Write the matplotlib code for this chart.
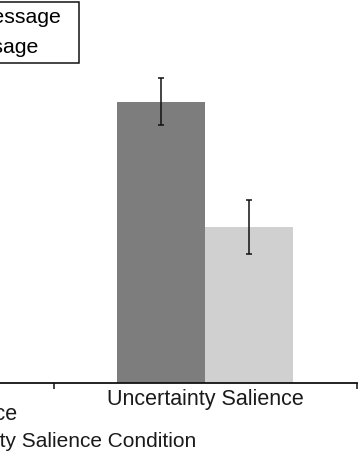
import matplotlib.pyplot as plt
from matplotlib.ticker import FixedLocator

plt.rcParams['font.family'] = ['Liberation Sans', 'DejaVu Sans']

# data (left part of the scan is cut off)
conditions = ["No Uncertainty Salience", "Uncertainty Salience"]
series = ["Uncertainty Message", "Certainty Message"]
means_dark = [0.0, 5.14]   # first category not visible in the crop
means_light = [0.0, 2.85]
err_dark = [0.0, 0.43]
err_light = [0.0, 0.49]
colors = ["#7d7d7d", "#d0d0d0"]

W, H = 359, 459
fig = plt.figure(figsize=(W / 100, H / 100), dpi=100)
# axes deliberately extends past the left edge of the figure (cropped scan)
ax = fig.add_axes([-250 / W, (H - 383) / H, 607 / W, 383 / H])

x = list(range(len(conditions)))
bw = 0.29
ekw = dict(ecolor="#111111", elinewidth=1.1, capsize=2.3, capthick=1.1)
ax.bar([i - bw / 2 for i in x], means_dark, bw, color=colors[0], label=series[0],
       yerr=err_dark, error_kw=ekw)
ax.bar([i + bw / 2 for i in x], means_light, bw, color=colors[1], label=series[1],
       yerr=err_light, error_kw=ekw)

ax.set_xlim(-0.5, len(conditions) - 0.5)
ax.set_ylim(0, 7)
for s in ["top", "right", "left"]:
    ax.spines[s].set_visible(False)
ax.spines["bottom"].set_linewidth(1.3)
ax.spines["bottom"].set_color("#111111")
ax.set_yticks([])

ax.set_xticks([])
ax.xaxis.set_minor_locator(FixedLocator([i + 0.5 for i in range(-1, len(conditions))]))
ax.tick_params(axis="x", which="minor", direction="out", length=4, width=1.1, color="#111111")

# category labels (first one sits a bit lower in the scan)
label_y = [-0.58, -0.31]
for i, c in enumerate(conditions):
    ax.text(i, label_y[i], c, ha="center", va="center", fontsize=15.5, color="#1a1a1a",
            transform=ax.transData)

ax.set_xlabel("Uncertainty Salience Condition", fontsize=15, color="#1a1a1a", labelpad=28)

leg = fig.legend(loc="lower left", bbox_to_anchor=(-205 / W, (H - 63) / H, 284 / W, 0.01),
                 mode="expand", fontsize=15.3, frameon=True, fancybox=False, edgecolor="#111111",
                 framealpha=1, borderpad=0.3, labelspacing=0.5, handlelength=2.0,
                 handletextpad=0.8, borderaxespad=0)
leg.get_frame().set_linewidth(1.1)

fig.savefig("out.png", dpi=100)
